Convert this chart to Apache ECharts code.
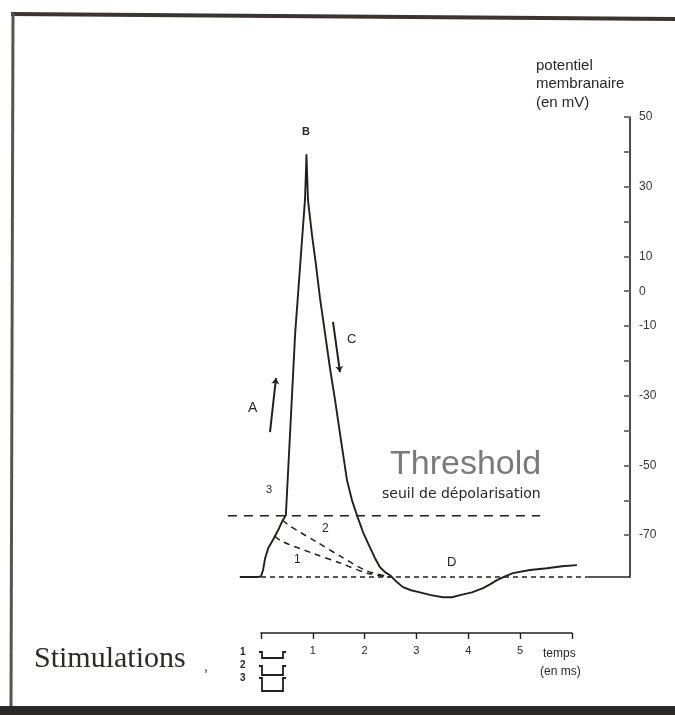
<!DOCTYPE html>
<html>
<head>
<meta charset="utf-8">
<script src="https://cdn.jsdelivr.net/npm/echarts@6/dist/echarts.min.js"></script>
<style>
html,body{margin:0;padding:0;background:#ffffff;}
#chart{width:675px;height:715px;}
</style>
</head>
<body>
<div id="chart"></div>
<script>
// ---- data (time in ms, potential in mV) ----
const apTime = [-0.41, -0.06, 0.00, 0.04, 0.08, 0.14, 0.23, 0.33, 0.42, 0.48,
  0.66, 0.849, 0.878, 0.907, 0.985, 1.062, 1.139, 1.236, 1.332, 1.429, 1.544, 1.660, 1.757, 1.853,
  1.969, 2.085, 2.201, 2.297, 2.394, 2.490, 2.606, 2.741, 2.896, 3.069, 3.282, 3.514, 3.687, 3.842,
  4.073, 4.286, 4.421, 4.556, 4.710, 4.865, 5.193, 5.521, 5.811, 6.100];
const apMv = [-82, -82, -81.8, -80.0, -76.6, -73.7, -71.4, -68.6, -65.7, -64.3,
  -12.0, 26.2, 39.1, 26.2, 16.1, 7.5, -2.0, -12.0, -22.1, -31.2, -42.7, -54.2, -60.0, -64.3,
  -69.1, -72.9, -76.6, -79.2, -80.6, -81.5, -83.2, -84.9, -85.8, -86.4, -87.2, -87.8, -87.8, -87.2,
  -86.4, -85.2, -84.1, -82.9, -81.8, -80.9, -80.0, -79.5, -78.9, -78.6];

const sub1Time = [0.27, 0.39, 1.00, 1.53, 2.05, 2.49];
const sub1Mv   = [-70.3, -71.7, -75.2, -78.0, -80.9, -82];
const sub2Time = [0.42, 0.56, 1.08, 1.53, 2.05, 2.49];
const sub2Mv   = [-65.7, -67.4, -72.0, -76.0, -80.3, -82];

const thresholdMv = -64.4;
const thresholdSpan = [-0.64, 5.39];
const restMv = -82;
const restDashedSpan = [0.0, 6.3];
const restSolidSpan = [6.3, 7.124];

const arrowA = [[0.174, -40.4], [0.29, -24.9]];
const arrowC = [[1.39, -8.8], [1.525, -23.2]];

const yLabelValues = [50, 30, 10, 0, -10, -30, -50, -70];
const yTickValues  = [50, 40, 30, 20, 10, 0, -10, -20, -30, -40, -50, -60, -70];
const timeLabelValues = [1, 2, 3, 4, 5];
const timeTickValues  = [0, 1, 2, 3, 4, 5, 6];

const zip = (a, b) => a.map((v, i) => [v, b[i]]);

const ink = '#231f1c';
const chart = echarts.init(document.getElementById('chart'), null, {renderer: 'canvas'});

const txt = (x, y, text, size, extra) => ({
  type: 'text', x: x, y: y,
  style: Object.assign({text: text, fill: '#2a2624', font: size + 'px "Liberation Sans", sans-serif'}, extra || {})
});

chart.setOption({
  backgroundColor: '#ffffff',
  animation: false,
  grid: [
    {left: 224.74, right: 45, top: 117, height: 460},
    {left: 261, width: 310.8, top: 632, height: 1}
  ],
  xAxis: [
    {gridIndex: 0, type: 'value', min: -0.7, max: 7.124, show: false},
    {gridIndex: 1, type: 'value', min: 0, max: 6, interval: 1, position: 'bottom',
      axisLine: {show: true, onZero: false, lineStyle: {color: ink, width: 1.6}},
      axisTick: {show: true, length: 6, customValues: timeTickValues, lineStyle: {color: ink, width: 1.4}},
      axisLabel: {customValues: timeLabelValues, margin: 12, color: '#2a2624', fontSize: 11, fontFamily: 'Liberation Sans'},
      splitLine: {show: false}}
  ],
  yAxis: [
    {gridIndex: 0, type: 'value', min: -82, max: 50, position: 'right',
      axisLine: {show: true, onZero: false, lineStyle: {color: ink, width: 1.6}},
      axisTick: {show: true, inside: true, length: 6, customValues: yTickValues, lineStyle: {color: '#7d736d', width: 2}},
      axisLabel: {customValues: yLabelValues, margin: 9, color: '#3a3634', fontSize: 12, fontFamily: 'Liberation Sans'},
      splitLine: {show: false}},
    {gridIndex: 1, type: 'value', min: 0, max: 1, show: false}
  ],
  series: [
    {name: 'potentiel', type: 'line', xAxisIndex: 0, yAxisIndex: 0, clip: false, symbol: 'none',
      data: zip(apTime, apMv), lineStyle: {color: ink, width: 1.9, join: 'round'}},
    {name: 'sub1', type: 'line', clip: false, symbol: 'none', data: zip(sub1Time, sub1Mv),
      smooth: 0.3, lineStyle: {color: ink, width: 1.5, type: [6, 5]}},
    {name: 'sub2', type: 'line', clip: false, symbol: 'none', data: zip(sub2Time, sub2Mv),
      smooth: 0.3, lineStyle: {color: ink, width: 1.5, type: [6, 5]}},
    {name: 'seuil', type: 'line', clip: false, symbol: 'none',
      data: thresholdSpan.map(t => [t, thresholdMv]),
      lineStyle: {color: ink, width: 1.5, type: [9, 7]}},
    {name: 'repos', type: 'line', clip: false, symbol: 'none',
      data: restDashedSpan.map(t => [t, restMv]),
      lineStyle: {color: ink, width: 1.5, type: [5, 4]}},
    {name: 'repos2', type: 'line', clip: false, symbol: 'none',
      data: restSolidSpan.map(t => [t, restMv]),
      lineStyle: {color: ink, width: 1.6}},
    {name: 'fleches', type: 'lines', coordinateSystem: 'cartesian2d', xAxisIndex: 0, yAxisIndex: 0,
      symbol: ['none', 'arrow'], symbolSize: 6,
      lineStyle: {color: ink, width: 2, opacity: 1},
      data: [{coords: arrowA}, {coords: arrowC}]}
  ],
  graphic: [
    // scan frame
    {type: 'line', shape: {x1: 11, y1: 14, x2: 675, y2: 19}, style: {stroke: '#3b3430', lineWidth: 4}},
    {type: 'line', shape: {x1: 13, y1: 13, x2: 11, y2: 706}, style: {stroke: '#5a524d', lineWidth: 3}},
    {type: 'rect', shape: {x: 0, y: 706, width: 675, height: 9}, style: {fill: '#2e2824'}},
    // axis title
    txt(536, 58, 'potentiel', 15),
    txt(536, 76, 'membranaire', 15),
    txt(536, 95, '(en mV)', 15),
    // annotations
    txt(302, 126, 'B', 11, {font: 'bold 11px "Liberation Sans", sans-serif'}),
    txt(248, 401, 'A', 14),
    txt(347, 333, 'C', 13),
    txt(447, 556, 'D', 13),
    txt(266, 484, '3', 11),
    txt(322, 523, '2', 12),
    txt(294, 554, '1', 12),
    txt(390, 448, 'Threshold', 34, {fill: '#7a7a7a', font: '34px "Liberation Sans", sans-serif'}),
    txt(382, 487, 'seuil de dépolarisation', 14, {font: '14px "DejaVu Sans", sans-serif'}),
    // stimulations legend
    txt(34, 644, 'Stimulations', 30, {fill: '#2e2a28', font: '30px "Liberation Serif", serif'}),
    txt(204, 660, ',', 14),
    txt(240, 647, '1', 10, {font: 'bold 10px "Liberation Sans", sans-serif'}),
    txt(240, 660, '2', 10, {font: 'bold 10px "Liberation Sans", sans-serif'}),
    txt(240, 673, '3', 10, {font: 'bold 10px "Liberation Sans", sans-serif'}),
    {type: 'polyline', shape: {points: [[259, 652], [262, 652], [262, 658], [283, 658], [283, 652], [286, 652]]}, style: {stroke: ink, lineWidth: 1.8, fill: null}},
    {type: 'polyline', shape: {points: [[259, 666], [262, 666], [262, 675], [283, 675], [283, 666], [286, 666]]}, style: {stroke: ink, lineWidth: 1.8, fill: null}},
    {type: 'polyline', shape: {points: [[259, 678], [262, 678], [262, 691], [283, 691], [283, 678], [286, 678]]}, style: {stroke: ink, lineWidth: 1.8, fill: null}},
    txt(543, 648, 'temps', 12),
    txt(540, 666, '(en ms)', 12)
  ]
});
</script>
</body>
</html>
